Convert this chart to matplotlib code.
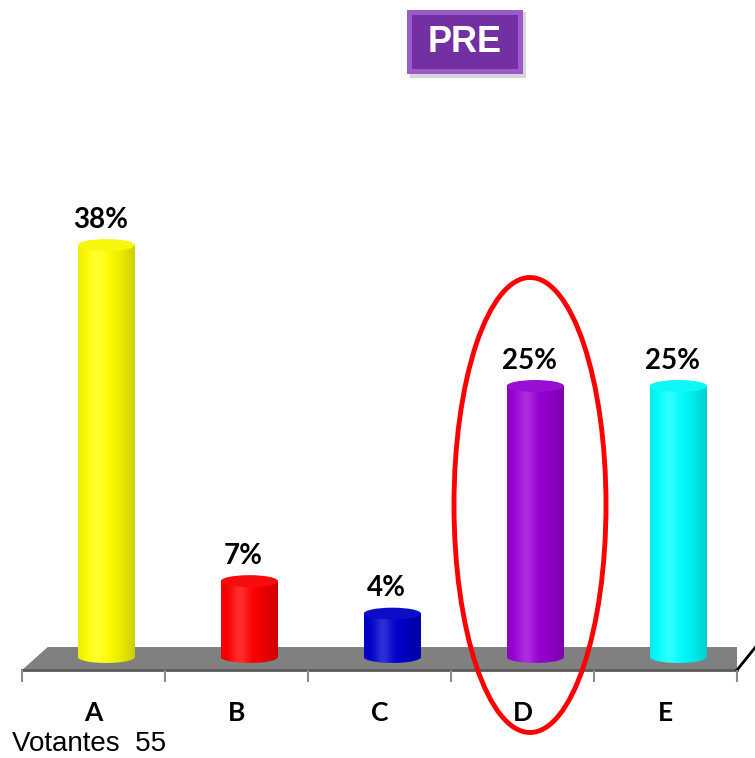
import numpy as np
import matplotlib
matplotlib.use("Agg")
import matplotlib.pyplot as plt
from matplotlib.patches import Ellipse, Polygon, Rectangle
from matplotlib.path import Path
from matplotlib.patches import PathPatch
from matplotlib.colors import to_rgb

categories = ["A", "B", "C", "D", "E"]
values = [38, 7, 4, 25, 25]
labels = ["38%", "7%", "4%", "25%", "25%"]
colors = ["#FFFF00", "#FF0000", "#0000CC", "#9900D6", "#00FFFF"]
voters = 55

W, H = 755, 758
fig = plt.figure(figsize=(W / 100, H / 100), dpi=100)
fig.patch.set_facecolor("white")


def fx(px):
    return px / W


def fy(py):
    return 1 - py / H


# axes: front edge of floor at pixel y=670, x from 22 to 737
ymin, ymax = -1.2, 40
ax = fig.add_axes([fx(22), fy(670), fx(737 - 22), (ymax - ymin) * 10.84 / H])
ax.set_xlim(0, 5)
ax.set_ylim(ymin, ymax)
ax.axis("off")

# floor
floor = Polygon([(0, ymin), (5, ymin), (5.13, 0.92), (0.18, 0.92)],
                closed=True, facecolor="#808080", edgecolor="none", zorder=1)
ax.add_patch(floor)
ax.plot([0, 5], [ymin, ymin], color="#5a5a5a", lw=2, zorder=2, clip_on=False)
ax.plot([5, 5.13], [ymin, 0.92], color="black", lw=2, zorder=2, clip_on=False)
ax.vlines(np.arange(6), ymin - 1.1, ymin, color="#8c8c8c", lw=1.5, clip_on=False)

# cylinders
bw = 0.4
eh = 1.1
t = np.linspace(0, 1, 200)
shade = 0.8 + 0.2 * np.clip(np.cos((t - 0.35) * np.pi / 1.3), 0, 1)
white = 0.18 * np.exp(-((t - 0.33) / 0.15) ** 2)

for i, (v, c) in enumerate(zip(values, colors)):
    cx = i + 0.59
    base = np.array(to_rgb(c))
    img = base[None, :] * shade[:, None]
    img = img * (1 - white[:, None]) + white[:, None]
    img = np.clip(img, 0, 1)[None, :, :]

    x0, x1 = cx - bw / 2, cx + bw / 2
    th = np.linspace(np.pi, 2 * np.pi, 60)
    bottom = np.column_stack([cx + bw / 2 * np.cos(th), eh / 2 * np.sin(th)])
    verts = np.vstack([[(x0, v)], bottom, [(x1, v)], [(x0, v)]])
    clip = PathPatch(Path(verts), facecolor="none", edgecolor="none", transform=ax.transData)
    ax.add_patch(clip)
    im = ax.imshow(img, extent=[x0, x1, -eh / 2, v], aspect="auto",
                   interpolation="bilinear", zorder=3)
    im.set_clip_path(clip)

    top_col = np.clip(base * 0.92 + 0.05, 0, 1)
    ax.add_patch(Ellipse((cx, v), bw, eh, facecolor=top_col, edgecolor="none", zorder=4))

    ax.text(cx - 0.04, v + 1.6, labels[i], ha="center", va="baseline",
            fontsize=20, fontweight="bold", family="Lato", zorder=5)

for i, cat in enumerate(categories):
    ax.text(i + 0.5, -5.2, cat, ha="center", va="center",
            fontsize=19, fontweight="bold", family="Lato")

ax.set_xlim(0, 5)
ax.set_ylim(ymin, ymax)

fig.text(fx(12), fy(751), f"Votantes  {voters}", ha="left", va="baseline",
         fontsize=20, family="Liberation Sans")

# PRE box
fig.add_artist(Rectangle((fx(410), fy(78)), fx(116), 66 / H, transform=fig.transFigure,
                         facecolor="#bbbbbb", edgecolor="none", alpha=0.6))
fig.add_artist(Rectangle((fx(407), fy(74)), fx(116), 64 / H, transform=fig.transFigure,
                         facecolor="#9b5cc9", edgecolor="none"))
fig.add_artist(Rectangle((fx(412), fy(69)), fx(106), 54 / H, transform=fig.transFigure,
                         facecolor="#7230a2", edgecolor="none"))
fig.text(fx(465), fy(43), "PRE", ha="center", va="center", color="white",
         fontsize=26, fontweight="bold", family="Liberation Sans")

# highlight ellipse
fig.add_artist(Ellipse((fx(530), fy(505)), fx(152), 455 / H, transform=fig.transFigure,
                       facecolor="none", edgecolor="#FF0000", lw=3.5, zorder=10))

fig.savefig("out.png", dpi=100)
